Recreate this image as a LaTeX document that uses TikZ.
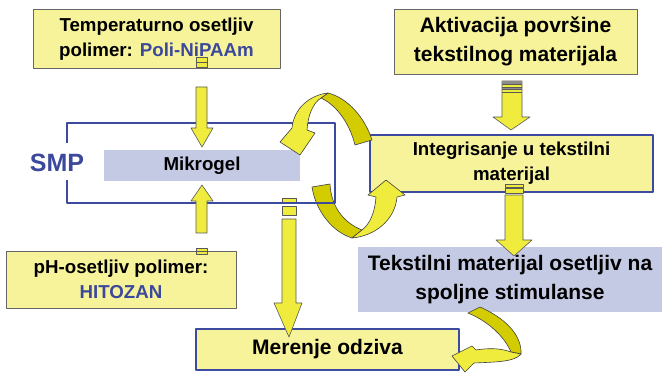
\documentclass[tikz,border=0pt]{standalone}
\usepackage{fontspec}
\setmainfont{Liberation Sans}
\usepackage{tikz}
\definecolor{boxyellow}{RGB}{247,243,155}
\definecolor{arrowyellow}{RGB}{240,236,62}
\definecolor{ribbondk}{RGB}{210,204,0}
\definecolor{frameblue}{RGB}{60,74,160}
\definecolor{lavender}{RGB}{197,202,228}
\definecolor{txtblue}{RGB}{59,72,155}
\newcommand{\smalltxt}{\fontsize{18.7}{25}\selectfont\bfseries}
\newcommand{\bigtxt}{\fontsize{21}{29}\selectfont\bfseries}

\begin{document}
\begin{tikzpicture}[x=1pt,y=-1pt,line join=round,
  ybox/.style={draw=black!60,line width=0.8pt,fill=boxyellow,inner sep=0pt,align=center},
  bbox/.style={draw=frameblue,line width=1.5pt,fill=boxyellow,inner sep=0pt,align=center},
  lbox/.style={fill=lavender,inner sep=0pt,align=center},
  blockarrow/.style={draw=black!65,line width=0.6pt,fill=arrowyellow},
  ribbondark/.style={draw=black!75,line width=0.6pt,fill=ribbondk},
  ribbonlight/.style={draw=black!75,line width=0.6pt,fill=arrowyellow}]
\useasboundingbox (0,0) rectangle (662,374);
% boxes
\node[ybox,font=\smalltxt,minimum width=247pt,minimum height=59pt] (temp) at (156.5,39)
  {Temperaturno osetljiv\\polimer: \textcolor{txtblue}{Poli-NiPAAm}};
\node[ybox,font=\bigtxt,minimum width=243pt,minimum height=65pt] (aktiv) at (515.5,41.5)
  {Aktivacija površine\\tekstilnog materijala};
\node[lbox,font=\smalltxt,minimum width=196pt,minimum height=31pt] (mikrogel) at (202,165.5) {Mikrogel};
\node[bbox,font=\smalltxt,minimum width=283pt,minimum height=57pt] (integ) at (511.5,163.5)
  {Integrisanje u tekstilni\\materijal};
\node[ybox,font=\smalltxt,minimum width=230pt,minimum height=57pt] (ph) at (121,279.5)
  {pH-osetljiv polimer:\\\textcolor{txtblue}{HITOZAN}};
\node[lbox,font=\bigtxt,minimum width=304pt,minimum height=65pt] (tekst) at (510,279.5)
  {Tekstilni materijal osetljiv na\\spoljne stimulanse};
\node[bbox,font=\bigtxt,minimum width=263pt,minimum height=41pt] (meren) at (327.5,349.5)
  {Merenje odziva};
\node[text=txtblue,inner sep=0pt,font=\fontsize{25}{30}\selectfont\bfseries] (smp) at (57,163) {SMP};
% lower ribbon (under the frame)
\draw[ribbondark] (312,187) -- (330,184) .. controls (331,205) and (342,222) .. (362,230)
  -- (352,238) .. controls (333,232) and (316,212) .. (312,187) -- cycle;
\draw[ribbonlight] (352,238) .. controls (375,236) and (395,220) .. (397,197) -- (405,195)
  -- (386,180) -- (368,195) -- (376,197) .. controls (375,212) and (370,224) .. (362,230) -- cycle;
% arrow to Merenje
\draw[blockarrow] (282,198) rectangle (296,203);
\draw[blockarrow] (282,206) rectangle (296,215);
\draw[blockarrow] (282,219) -- (296,219) -- (296,303) -- (302,303) -- (289,337) -- (274,303)
  -- (282,303) -- cycle;
% SMP frame
\draw[frameblue,line width=1.5pt] (67,143) -- (67,123) -- (335,123) -- (335,203) -- (67,203) -- (67,180);
% straight arrows
\draw[blockarrow] (196,57) rectangle (207,67);
\draw[black!65] (196,62) -- (207,62);
\draw[blockarrow] (196,87) -- (207,87) -- (207,128) -- (213,128) -- (202,147) -- (191,128)
  -- (196,128) -- cycle;
\draw[blockarrow] (196,248) rectangle (207,254);
\draw[black!65] (196,251) -- (207,251);
\draw[blockarrow] (196,233) -- (207,233) -- (207,201) -- (213,201) -- (202,185) -- (191,201)
  -- (196,201) -- cycle;
\draw[blockarrow] (502,81) -- (522,81) -- (522,117) -- (530,117) -- (511,130) -- (493,117)
  -- (502,117) -- cycle;
\fill[black!45] (502,81) rectangle (522,84);
\fill[black!45] (502,87) rectangle (522,89);
\foreach \y in {84,87,89,92}
  \draw[black!65] (502,\y) -- (522,\y);
\draw[blockarrow] (505,184) rectangle (523,187);
\draw[blockarrow] (505,188) rectangle (523,193);
\draw[blockarrow] (505,195) -- (523,195) -- (523,240) -- (532,240) -- (514,256) -- (496,240)
  -- (505,240) -- cycle;
% upper ribbon
\draw[ribbondark] (328,93) .. controls (348,98) and (365,118) .. (372,140) -- (355,145)
  .. controls (350,125) and (338,106) .. (321,98) -- cycle;
\draw[ribbonlight] (328,93) .. controls (310,95) and (294,108) .. (292,128) -- (280,142)
  -- (300,155) -- (315,133) -- (307,130) .. controls (308,115) and (313,103) .. (321,98) -- cycle;
% ribbon to Merenje
\draw[ribbondark] (468,313) -- (480,307) .. controls (505,318) and (522,335) .. (521,354)
  -- (511,352) .. controls (505,338) and (490,322) .. (468,313) -- cycle;
\draw[ribbonlight] (511,352) .. controls (500,348) and (488,348) .. (476,350) -- (472,346)
  -- (452,356) -- (465,372) -- (474,363) .. controls (495,362) and (515,362) .. (521,354) -- cycle;
\end{tikzpicture}
\end{document}
